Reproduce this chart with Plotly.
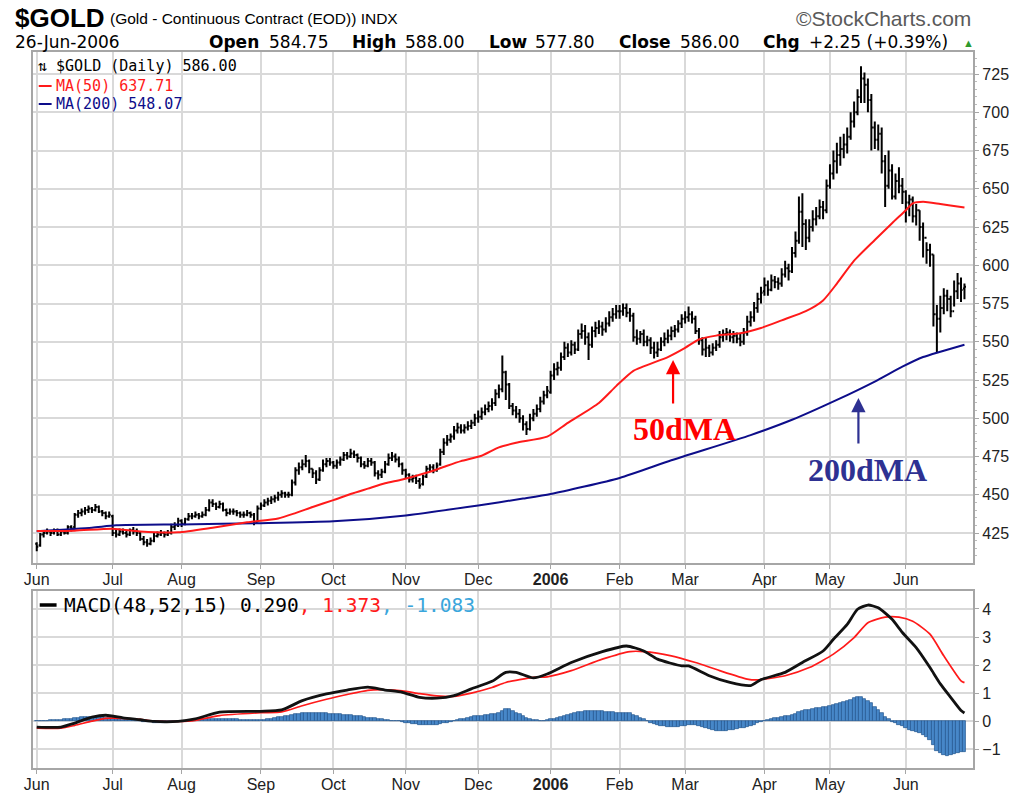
import pandas as pd
import plotly.graph_objects as go

# ---------------- DATA ----------------
holidays = ['2005-07-04', '2005-09-05', '2005-11-24', '2005-12-26', '2006-01-02',
            '2006-01-16', '2006-02-20', '2006-04-14', '2006-05-29']

opens = [
    418, 417, 424, 425, 426, 425, 427, 424, 426, 425, 429, 429, 437, 438, 439, 440, 441, 440, 442, 439, 438, 436,  # Jun 05
    436, 425, 424, 426, 425, 424, 427, 426, 425, 421, 419, 418, 420, 423, 424, 425, 424, 425, 429, 430,  # Jul
    433, 431, 434, 436, 436, 437, 436, 437, 440, 445, 444, 442, 444, 440, 438, 439, 439, 438, 437, 437, 438, 437, 432,  # Aug
    441, 443, 445, 446, 447, 448, 450, 451, 450, 450, 458, 466, 468, 470, 472, 467, 464, 460, 466, 470, 472,  # Sep
    471, 469, 471, 473, 476, 475, 477, 476, 474, 470, 469, 472, 471, 464, 463, 465, 470, 474, 475, 473, 470,  # Oct
    466, 463, 460, 461, 459, 457, 462, 467, 468, 466, 470, 478, 484, 486, 488, 492, 494, 492, 494, 495, 497,  # Nov
    500, 501, 504, 506, 508, 510, 516, 519, 530, 522, 508, 505, 503, 500, 496, 493, 500, 503, 506, 511, 515,  # Dec
    517, 528, 532, 533, 540, 546, 543, 548, 545, 555, 557, 553, 548, 557, 559, 560, 558, 562, 566, 568,  # Jan 06
    570, 570, 572, 569, 567, 553, 552, 555, 550, 551, 546, 543, 545, 550, 552, 554, 557, 558, 562,  # Feb
    565, 566, 568, 565, 557, 551, 545, 546, 543, 546, 548, 553, 555, 556, 553, 554, 552, 550, 556, 563, 566, 572, 578,  # Mar
    583, 587, 584, 590, 589, 588, 594, 598, 596, 608, 616, 635, 627, 618, 625, 630, 632, 638, 636,  # Apr
    652, 660, 668, 672, 676, 679, 684, 694, 700, 710, 722, 718, 708, 690, 682, 686, 668, 652, 662, 645, 655, 652,  # May
    648, 641, 643, 632, 636, 625, 618, 610, 607, 568, 565, 572, 580, 578, 570, 583, 588, 584.75,  # Jun
]
highs = [
    419, 425, 427, 428, 427, 428, 428, 427, 427, 430, 430, 438, 440, 441, 442, 443, 442, 444, 443, 440, 439, 439,
    437, 427, 428, 428, 427, 428, 429, 428, 426, 423, 421, 422, 425, 426, 427, 426, 427, 431, 432, 435,
    434, 435, 438, 438, 439, 438, 439, 442, 447, 447, 445, 446, 445, 441, 441, 441, 440, 439, 439, 440, 439, 438, 443,
    445, 447, 448, 449, 450, 452, 453, 452, 452, 460, 468, 471, 473, 476, 473, 467, 466, 468, 473, 474, 474,
    472, 473, 475, 478, 478, 480, 479, 477, 475, 472, 474, 474, 472, 466, 467, 472, 477, 478, 477, 475, 471,
    467, 464, 463, 463, 461, 463, 469, 470, 470, 471, 480, 487, 489, 490, 495, 497, 496, 496, 498, 499, 503,
    505, 507, 509, 511, 513, 519, 522, 541, 531, 523, 510, 508, 506, 502, 498, 503, 506, 509, 514, 518, 521,
    531, 536, 537, 543, 550, 549, 551, 550, 558, 562, 561, 556, 560, 563, 564, 563, 566, 570, 572, 574,
    574, 575, 575, 572, 569, 558, 557, 558, 554, 553, 550, 550, 553, 556, 558, 560, 561, 564, 568,
    570, 573, 570, 567, 559, 553, 553, 548, 549, 551, 557, 558, 559, 558, 557, 556, 555, 559, 567, 570, 576, 582, 586,
    592, 590, 594, 593, 592, 598, 603, 601, 612, 622, 645, 647, 630, 630, 636, 638, 643, 642, 656,
    666, 675, 680, 684, 686, 690, 700, 707, 715, 730, 726, 722, 712, 694, 692, 690, 672, 675, 666, 660, 664, 657,
    649, 646, 645, 640, 636, 628, 615, 614, 607, 574, 580, 585, 584, 580, 590, 595, 592, 588,
]
lows = [
    413, 416, 422, 424, 423, 424, 423, 423, 424, 424, 426, 428, 435, 436, 437, 438, 438, 439, 438, 436, 434, 435,
    423, 422, 423, 424, 422, 423, 424, 423, 420, 417, 416, 417, 419, 422, 423, 422, 423, 424, 427, 429,
    429, 430, 433, 434, 435, 434, 435, 436, 439, 442, 440, 441, 439, 436, 437, 437, 436, 435, 435, 436, 435, 430, 432,
    440, 442, 443, 444, 445, 446, 448, 448, 448, 449, 456, 463, 466, 468, 464, 461, 457, 459, 465, 468, 469,
    467, 467, 469, 472, 473, 474, 474, 471, 468, 467, 468, 469, 462, 460, 461, 464, 469, 472, 471, 468, 463,
    461, 458, 458, 457, 454, 456, 461, 465, 464, 465, 469, 476, 482, 484, 486, 490, 490, 490, 492, 493, 495,
    497, 499, 502, 504, 505, 508, 513, 517, 512, 506, 502, 500, 497, 492, 489, 492, 498, 501, 504, 509, 513,
    516, 525, 528, 531, 538, 540, 541, 542, 544, 552, 548, 538, 546, 553, 555, 554, 556, 560, 563, 565,
    565, 567, 566, 563, 550, 548, 549, 547, 547, 542, 539, 540, 544, 547, 549, 551, 553, 556, 559,
    562, 563, 562, 555, 548, 541, 540, 540, 541, 544, 546, 550, 551, 550, 549, 549, 547, 548, 554, 560, 563, 569, 575,
    580, 580, 583, 585, 584, 586, 592, 590, 595, 605, 614, 612, 610, 615, 622, 626, 630, 630, 634,
    650, 656, 660, 665, 670, 673, 682, 690, 698, 706, 706, 700, 675, 676, 675, 660, 638, 650, 643, 643, 647, 640,
    628, 632, 628, 626, 616, 605, 601, 599, 560, 543, 556, 568, 570, 566, 573, 578, 576, 577.8,
]
closes = [
    416, 424, 425, 426, 425, 427, 424, 426, 425, 429, 428, 437, 438, 439, 440, 441, 440, 442, 439, 438, 436, 437,
    425, 424, 426, 425, 424, 427, 426, 425, 421, 419, 418, 420, 423, 424, 425, 424, 425, 429, 430, 433,
    431, 434, 436, 436, 437, 436, 437, 440, 445, 444, 442, 444, 440, 438, 439, 439, 438, 437, 437, 438, 437, 432, 441,
    443, 445, 446, 447, 448, 450, 451, 450, 450, 458, 466, 468, 470, 472, 467, 464, 460, 466, 470, 472, 471,
    469, 471, 473, 476, 475, 477, 476, 474, 470, 469, 472, 471, 464, 463, 465, 470, 474, 475, 473, 470, 466,
    463, 460, 461, 459, 456, 462, 467, 468, 466, 469, 478, 484, 486, 488, 492, 494, 492, 494, 495, 497, 500,
    501, 504, 506, 508, 510, 516, 519, 530, 522, 508, 505, 503, 500, 496, 493, 500, 503, 506, 511, 515, 518,
    528, 532, 533, 540, 546, 543, 548, 545, 555, 557, 553, 548, 557, 559, 560, 558, 562, 566, 568, 570,
    570, 572, 569, 567, 553, 552, 555, 550, 551, 546, 543, 545, 550, 552, 554, 557, 558, 562, 565,
    566, 568, 565, 557, 551, 545, 546, 543, 546, 548, 553, 555, 556, 553, 554, 552, 550, 556, 563, 566, 572, 578, 582,
    587, 584, 590, 589, 588, 594, 598, 596, 608, 616, 635, 627, 618, 625, 630, 632, 638, 636, 652,
    660, 668, 672, 676, 679, 684, 694, 700, 710, 722, 718, 708, 690, 682, 686, 668, 652, 662, 645, 655, 652, 648,
    641, 643, 632, 636, 625, 618, 610, 607, 568, 565, 572, 580, 578, 570, 583, 588, 583.75, 586,
]

ma50_dates = ['2005-06-01', '2005-06-16', '2005-07-01', '2005-07-14', '2005-07-29', '2005-08-12', '2005-08-26',
              '2005-09-09', '2005-09-16', '2005-09-23', '2005-10-03', '2005-10-10', '2005-10-17', '2005-10-24',
              '2005-10-31', '2005-11-10', '2005-11-17', '2005-11-23', '2005-12-02', '2005-12-09', '2005-12-16',
              '2005-12-30', '2006-01-10', '2006-01-24', '2006-01-31', '2006-02-07', '2006-02-22', '2006-03-01',
              '2006-03-07', '2006-03-14', '2006-03-23', '2006-03-31', '2006-04-10', '2006-04-20', '2006-04-27',
              '2006-05-03', '2006-05-10', '2006-05-18', '2006-05-25', '2006-06-01', '2006-06-05', '2006-06-08',
              '2006-06-15', '2006-06-23', '2006-06-26']
ma50_vals = [426.3, 426.5, 427.8, 426.0, 425.5, 428.5, 432.0,
             434.5, 438.0, 442.0, 446.5, 450.5, 454.0, 457.5,
             460.0, 465.0, 469.0, 472.0, 475.5, 481.0, 484.0,
             488.0, 497.0, 510.0, 521.0, 531.0, 540.0, 546.0,
             551.5, 554.0, 555.5, 559.0, 564.0, 570.0, 577.0,
             588.0, 603.0, 616.5, 627.5, 636.0, 640.5, 641.5,
             640.0, 638.0, 637.71]

ma200_dates = ['2005-06-01', '2005-06-23', '2005-07-05', '2005-08-01', '2005-09-01', '2005-10-03', '2005-11-01',
               '2005-12-01', '2005-12-20', '2006-01-03', '2006-02-01', '2006-02-23', '2006-03-28', '2006-04-13',
               '2006-05-03', '2006-05-18', '2006-05-31', '2006-06-08', '2006-06-15', '2006-06-26']
ma200_vals = [426.2, 428.5, 430.0, 430.6, 431.4, 432.6, 436.5,
              443.0, 447.5, 450.5, 461.0, 472.5, 489.0, 499.0,
              512.0, 524.0, 533.7, 540.0, 543.5, 548.07]

macd_dates = ['2005-06-01', '2005-06-10', '2005-06-16', '2005-06-23', '2005-06-29', '2005-07-07', '2005-07-14',
              '2005-07-20', '2005-07-29', '2005-08-05', '2005-08-16', '2005-09-01', '2005-09-12', '2005-09-20',
              '2005-09-29', '2005-10-07', '2005-10-17', '2005-10-24', '2005-10-31', '2005-11-07', '2005-11-14',
              '2005-11-21', '2005-11-29', '2005-12-07', '2005-12-13', '2005-12-16', '2005-12-23', '2005-12-30',
              '2006-01-11', '2006-01-25', '2006-02-03', '2006-02-10', '2006-02-16', '2006-02-28', '2006-03-02',
              '2006-03-10', '2006-03-20', '2006-03-28', '2006-03-31', '2006-04-11', '2006-04-19', '2006-04-27',
              '2006-05-02', '2006-05-08', '2006-05-11', '2006-05-16', '2006-05-19', '2006-05-25', '2006-05-31',
              '2006-06-06', '2006-06-12', '2006-06-15', '2006-06-20', '2006-06-23', '2006-06-26']
macd_vals = [-0.21, -0.21, -0.07, 0.14, 0.21, 0.12, 0.05,
             -0.01, -0.01, 0.08, 0.32, 0.35, 0.40, 0.73,
             0.97, 1.11, 1.21, 1.11, 1.03, 0.85, 0.82,
             0.91, 1.15, 1.42, 1.74, 1.74, 1.54, 1.68,
             2.09, 2.48, 2.68, 2.50, 2.21, 1.97, 1.97,
             1.62, 1.38, 1.27, 1.48, 1.74, 2.09, 2.50,
             2.92, 3.45, 3.99, 4.14, 4.04, 3.63, 3.16,
             2.62, 1.91, 1.33, 0.85, 0.38, 0.290]

signal_dates = ['2005-06-01', '2005-06-10', '2005-06-16', '2005-06-23', '2005-06-29', '2005-07-07', '2005-07-14',
                '2005-07-20', '2005-07-29', '2005-08-05', '2005-08-16', '2005-09-01', '2005-09-12', '2005-09-20',
                '2005-09-29', '2005-10-07', '2005-10-17', '2005-10-24', '2005-10-31', '2005-11-07', '2005-11-14',
                '2005-11-21', '2005-11-29', '2005-12-07', '2005-12-13', '2005-12-23', '2005-12-30', '2006-01-11',
                '2006-01-25', '2006-02-06', '2006-02-10', '2006-02-23', '2006-03-06', '2006-03-15', '2006-03-27',
                '2006-03-30', '2006-04-11', '2006-04-21', '2006-05-02', '2006-05-10', '2006-05-16', '2006-05-23',
                '2006-05-30', '2006-06-05', '2006-06-12', '2006-06-16', '2006-06-23', '2006-06-26']
signal_vals = [-0.25, -0.25, -0.15, 0.0, 0.10, 0.10, 0.06,
               0.0, -0.01, 0.03, 0.20, 0.30, 0.33, 0.55,
               0.78, 0.95, 1.10, 1.12, 1.08, 0.98, 0.90,
               0.88, 1.00, 1.20, 1.38, 1.56, 1.58, 1.80,
               2.21, 2.48, 2.48, 2.33, 2.09, 1.80, 1.50,
               1.47, 1.62, 1.91, 2.39, 2.98, 3.51, 3.71,
               3.71, 3.56, 3.10, 2.33, 1.44, 1.373]

hist_vals = [
    0.0, 0.01, 0.02, 0.02, 0.03, 0.03, 0.03, 0.04,
    0.06, 0.07, 0.08, 0.10,
    0.12, 0.14, 0.15, 0.16, 0.16, 0.16, 0.15, 0.14, 0.12,
    0.10, 0.08, 0.07, 0.06, 0.05, 0.05, 0.04, 0.03, 0.02,
    0.0, -0.02, -0.03, -0.04, -0.05, -0.05, -0.05, -0.05, -0.04, -0.04, -0.03, -0.02,
    -0.01, 0.0, 0.01, 0.02, 0.03, 0.05, 0.06,
    0.07, 0.08, 0.09, 0.09, 0.09, 0.09, 0.08, 0.08, 0.07, 0.06, 0.05, 0.04,
    0.03, 0.03, 0.03, 0.03, 0.03, 0.04, 0.06, 0.09, 0.12,
    0.14, 0.15, 0.17, 0.20, 0.23, 0.26,
    0.27, 0.28, 0.29, 0.29, 0.30, 0.30, 0.29, 0.29, 0.28, 0.27, 0.26,
    0.25, 0.24, 0.23, 0.22, 0.21, 0.20, 0.19, 0.17,
    0.15, 0.13, 0.12, 0.10, 0.08, 0.06, 0.05,
    0.03, 0.02, 0.0, -0.01, -0.03,
    -0.05, -0.07, -0.09,
    -0.11, -0.12, -0.13, -0.13, -0.13, -0.12, -0.12, -0.11,
    -0.08, -0.05, -0.02,
    0.02, 0.05, 0.07, 0.09,
    0.12, 0.15, 0.17, 0.18, 0.19,
    0.21, 0.23, 0.25, 0.27,
    0.30, 0.36, 0.42, 0.44,
    0.38, 0.30, 0.24,
    0.17, 0.12, 0.08, 0.05,
    0.03, 0.02, 0.02, 0.03,
    0.06, 0.09, 0.12, 0.14,
    0.18, 0.22, 0.25,
    0.28, 0.31, 0.33, 0.35, 0.36, 0.36, 0.36, 0.35, 0.35,
    0.34, 0.32, 0.31, 0.30, 0.29, 0.29, 0.28, 0.28,
    0.23, 0.18, 0.13,
    0.06, 0.0, -0.05,
    -0.10, -0.14, -0.17, -0.19, -0.20, -0.20, -0.20, -0.20, -0.19, -0.18,
    -0.15, -0.13, -0.14,
    -0.18, -0.22, -0.26, -0.29,
    -0.32, -0.34, -0.35, -0.35, -0.34, -0.33, -0.32,
    -0.29, -0.26, -0.23, -0.20, -0.16, -0.12,
    -0.08, -0.04,
    0.0, 0.04, 0.08, 0.11, 0.13,
    0.16, 0.18, 0.20, 0.22,
    0.27, 0.33, 0.38, 0.40, 0.41, 0.43,
    0.46, 0.48, 0.50, 0.52, 0.54,
    0.58, 0.61, 0.64,
    0.68, 0.72, 0.76,
    0.84, 0.87, 0.86,
    0.80, 0.73, 0.64,
    0.52, 0.40, 0.28, 0.16,
    0.06, -0.02,
    -0.08, -0.13, -0.18,
    -0.24, -0.30, -0.35, -0.39, -0.43,
    -0.50, -0.58, -0.68,
    -0.85, -1.05, -1.15,
    -1.22, -1.25,
    -1.20, -1.16, -1.12, -1.10, -1.083,
]

price_ticks = [425, 450, 475, 500, 525, 550, 575, 600, 625, 650, 675, 700, 725]
macd_ticks = [-1, 0, 1, 2, 3, 4]
month_names = ['Jan', 'Feb', 'Mar', 'Apr', 'May', 'Jun', 'Jul', 'Aug', 'Sep', 'Oct', 'Nov', 'Dec']

# ---------------- DERIVED ----------------
all_days = pd.bdate_range('2005-06-01', '2006-06-26')
date_str = [d.strftime('%Y-%m-%d') for d in all_days if d.strftime('%Y-%m-%d') not in holidays]
n = len(date_str)
for arr in (opens, highs, lows, closes, hist_vals):
    assert len(arr) == n, (len(arr), n)
assert len(ma50_dates) == len(ma50_vals)
assert len(ma200_dates) == len(ma200_vals)
assert len(macd_dates) == len(macd_vals)
assert len(signal_dates) == len(signal_vals)
pos = {s: i for i, s in enumerate(date_str)}
xi = list(range(n))

tickvals, ticktext = [], []
prev = None
for i, s in enumerate(date_str):
    ym = s[:7]
    if ym != prev:
        prev = ym
        m = int(s[5:7])
        tickvals.append(i)
        ticktext.append('<b>%s</b>' % s[:4] if m == 1 else month_names[m - 1])

# ---------------- LAYOUT HELPERS ----------------
W, H = 1017, 796
def px(x):
    return x / W
def py(y):
    return 1 - y / H

X_L, X_R = 24, 973
FIRST_BAR, LAST_BAR = 28, 964
STEP = (LAST_BAR - FIRST_BAR) / (n - 1)
x_range = [-(FIRST_BAR - X_L) / STEP, (n - 1) + (X_R - LAST_BAR) / STEP]

P_TOP, P_BOT = 52, 563
M_TOP, M_BOT = 591, 768

GRID = '#d9d9d9'
BORDER = '#a6a6a6'
TICKFONT = dict(family='Liberation Sans, Arial, sans-serif', size=16, color='#222')

fig = go.Figure()

fig.add_trace(go.Ohlc(
    x=xi, open=opens, high=highs, low=lows, close=closes,
    increasing=dict(line=dict(color='black', width=2.0)),
    decreasing=dict(line=dict(color='black', width=2.0)),
    tickwidth=0.45, xaxis='x', yaxis='y', hoverinfo='skip', showlegend=False))

fig.add_trace(go.Scatter(x=[pos[d] for d in ma200_dates], y=ma200_vals, mode='lines',
                         line=dict(color='#0d0d8a', width=2.0, shape='spline', smoothing=0.6),
                         xaxis='x', yaxis='y', hoverinfo='skip', showlegend=False))
fig.add_trace(go.Scatter(x=[pos[d] for d in ma50_dates], y=ma50_vals, mode='lines',
                         line=dict(color='#ff1a1a', width=2.0, shape='spline', smoothing=0.6),
                         xaxis='x', yaxis='y', hoverinfo='skip', showlegend=False))

fig.add_trace(go.Bar(x=xi, y=hist_vals, width=1.0,
                     marker=dict(color='#4787c8', line=dict(color='#22568f', width=0.7)),
                     xaxis='x2', yaxis='y2', hoverinfo='skip', showlegend=False))
fig.add_trace(go.Scatter(x=[pos[d] for d in signal_dates], y=signal_vals, mode='lines',
                         line=dict(color='#ff1a1a', width=1.7, shape='spline', smoothing=0.6),
                         xaxis='x2', yaxis='y2', hoverinfo='skip', showlegend=False))
fig.add_trace(go.Scatter(x=[pos[d] for d in macd_dates], y=macd_vals, mode='lines',
                         line=dict(color='#111111', width=2.8, shape='spline', smoothing=0.6),
                         xaxis='x2', yaxis='y2', hoverinfo='skip', showlegend=False))

xcommon = dict(range=x_range, tickmode='array', tickvals=tickvals, ticktext=ticktext,
               showgrid=True, gridcolor=GRID, gridwidth=1.5, zeroline=False,
               showline=True, mirror=True, linecolor=BORDER, linewidth=1.5,
               ticks='outside', ticklen=4, tickcolor=BORDER, tickfont=TICKFONT,
               ticklabelstandoff=-3, fixedrange=True)
ycommon = dict(side='right', tickmode='array', showgrid=True, gridcolor=GRID, gridwidth=1.5,
               zeroline=False, showline=True, mirror=True, linecolor=BORDER, linewidth=1.5,
               ticks='outside', ticklen=4, tickcolor=BORDER, tickfont=TICKFONT, fixedrange=True)
fig.update_layout(
    width=W, height=H, autosize=False,
    margin=dict(l=0, r=0, t=0, b=0),
    paper_bgcolor='white', plot_bgcolor='white',
    bargap=0,
    xaxis=dict(domain=[px(X_L), px(X_R)], anchor='y', rangeslider=dict(visible=False), **xcommon),
    xaxis2=dict(domain=[px(X_L), px(X_R)], anchor='y2', **xcommon),
    yaxis=dict(domain=[py(P_BOT), py(P_TOP)], range=[405.39, 739.38], tickvals=price_ticks,
               minor=dict(dtick=5, ticks='outside', ticklen=2, tickcolor='#bbbbbb', showgrid=False),
               anchor='x', **ycommon),
    yaxis2=dict(domain=[py(M_BOT), py(M_TOP)], range=[-1.67, 4.64], tickvals=macd_ticks,
                anchor='x2', **ycommon),
)

HEAD = 'Liberation Sans, Arial, sans-serif'
HEAD2 = 'DejaVu Sans, Verdana, sans-serif'
LEG = 'DejaVu Sans Mono, monospace'
ann = []
def text(t, x, y, size, color='#000', family=HEAD, xanchor='left'):
    ann.append(dict(text=t, x=px(x), y=py(y), xref='paper', yref='paper', showarrow=False,
                    xanchor=xanchor, yanchor='middle', font=dict(family=family, size=size, color=color)))

last_o, last_h, last_l, last_c = opens[-1], highs[-1], lows[-1], closes[-1]
chg = last_c - closes[-2]
pct = chg / closes[-2] * 100
last_date = pd.Timestamp(date_str[-1]).strftime('%d-%b-%Y')

text('<b>$GOLD</b>', 4, 18, 26)
text('(Gold - Continuous Contract (EOD)) INDX', 100, 18, 15.5)
text('\u00a9StockCharts.com', 973, 18, 21, color='#5a5a5a', xanchor='right')
text(last_date, 4, 42, 17, family=HEAD2)

pieces = [('<b>Open</b>', 200), ('%.2f' % last_o, 260), ('<b>High</b>', 344), ('%.2f' % last_h, 398),
          ('<b>Low</b>', 482), ('%.2f' % last_l, 529), ('<b>Close</b>', 613), ('%.2f' % last_c, 675),
          ('<b>Chg</b>', 759), ('%+.2f (%+.2f%%)' % (chg, pct), 805)]
for t, x in pieces:
    text(t, x, 42, 17, family=HEAD2)
text('\u25b2', 960, 43, 11, color='#2e9b2e')

text('\u21c5 $GOLD (Daily) %.2f' % last_c, 27, 66, 15, family=LEG)
text('MA(50) %.2f' % ma50_vals[-1], 45, 86, 15, color='#ff1a1a', family=LEG)
text('MA(200) %.2f' % ma200_vals[-1], 45, 104, 15, color='#0d0d8a', family=LEG)
text('MACD(48,52,15) %.3f<span style="color:#ff1a1a">, %.3f</span><span style="color:#3aa6dc">, %.3f</span>'
     % (macd_vals[-1], signal_vals[-1], hist_vals[-1]), 53, 605, 19.5, family=LEG)

SERIF = 'Liberation Serif, Times New Roman, serif'
text('<b>50dMA</b>', 682, 429, 32, color='#ff0000', family=SERIF, xanchor='center')
text('<b>200dMA</b>', 866, 470, 32, color='#2e3192', family=SERIF, xanchor='center')

for (tx, ty, tail, col) in [(670, 360, 45, '#ff0000'), (857, 398, 47, '#2e3192')]:
    ann.append(dict(x=px(tx), y=py(ty), xref='paper', yref='paper', text='', showarrow=True,
                    ax=0, ay=tail, arrowhead=2, arrowsize=1.3, arrowwidth=2.2, arrowcolor=col))

shapes = [
    dict(type='line', xref='paper', yref='paper', x0=px(30), x1=px(43), y0=py(86), y1=py(86),
         line=dict(color='#ff1a1a', width=2)),
    dict(type='line', xref='paper', yref='paper', x0=px(30), x1=px(43), y0=py(104), y1=py(104),
         line=dict(color='#0d0d8a', width=2)),
    dict(type='line', xref='paper', yref='paper', x0=px(31), x1=px(48), y0=py(605), y1=py(605),
         line=dict(color='#000', width=3.5)),
]
fig.update_layout(annotations=ann, shapes=shapes)

fig.write_html('out.html', config={'displayModeBar': False},
               post_script="document.body.style.margin='0';document.body.style.padding='0';")
